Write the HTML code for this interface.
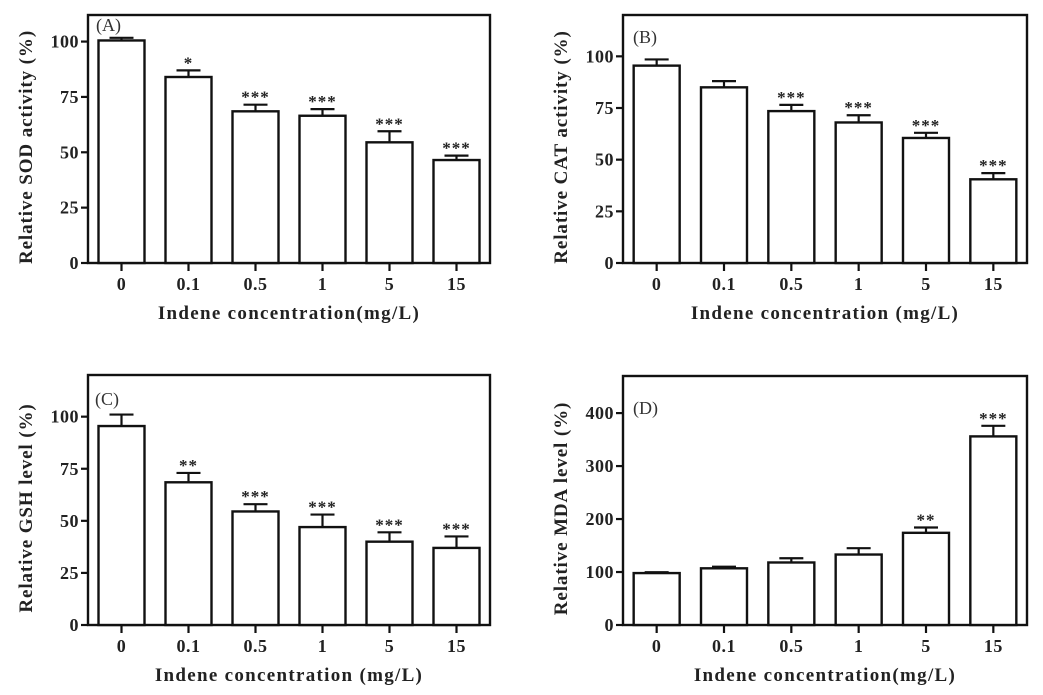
<!DOCTYPE html>
<html><head><meta charset="utf-8"><style>
body{margin:0;background:#fff}
svg{display:block;font-family:"Liberation Serif",serif}
</style></head><body>
<svg id="fig" width="1043" height="695" viewBox="0 0 1043 695" xmlns="http://www.w3.org/2000/svg"></svg>
<script>
const categories = ["0","0.1","0.5","1","5","15"];
const sodValues = [100.5,84,68.5,66.5,54.5,46.5];
const sodErrors = [1.2,3,3,3,5,2];
const sodStars = ["","*","***","***","***","***"];
const catValues = [95.5,85,73.5,68,60.5,40.5];
const catErrors = [3,3,3,3.5,2.5,3];
const catStars = ["","","***","***","***","***"];
const gshValues = [95.5,68.5,54.5,47,40,37];
const gshErrors = [5.5,4.5,3.5,6,4.5,5.5];
const gshStars = ["","**","***","***","***","***"];
const mdaValues = [98,107,118,133,174,356];
const mdaErrors = [1.5,3,8,12,10,20];
const mdaStars = ["","","","","**","***"];
const ticks100 = [0,25,50,75,100];
const ticks400 = [0,100,200,300,400];

const NS="http://www.w3.org/2000/svg";
const svg=document.getElementById('fig');
function mk(tag,attrs,parent){const e=document.createElementNS(NS,tag);for(const k in attrs)e.setAttribute(k,attrs[k]);(parent||svg).appendChild(e);return e;}

const panels=[
 {id:'a',L:88,T:15,R:490,B:263,max:112,vals:sodValues,errs:sodErrors,stars:sodStars,ticks:ticks100,ytitle:'Relative SOD activity (%)',xtitle:'Indene concentration(mg/L)',tag:'(A)',tx:96,ty:31},
 {id:'b',L:623,T:15,R:1027,B:263,max:120,vals:catValues,errs:catErrors,stars:catStars,ticks:ticks100,ytitle:'Relative CAT activity (%)',xtitle:'Indene concentration (mg/L)',tag:'(B)',tx:633,ty:43},
 {id:'c',L:88,T:375,R:490,B:625,max:120,vals:gshValues,errs:gshErrors,stars:gshStars,ticks:ticks100,ytitle:'Relative  GSH  level (%)',xtitle:'Indene concentration (mg/L)',tag:'(C)',tx:95,ty:405},
 {id:'d',L:623,T:376,R:1027,B:625,max:470,vals:mdaValues,errs:mdaErrors,stars:mdaStars,ticks:ticks400,ytitle:'Relative MDA level (%)',xtitle:'Indene concentration(mg/L)',tag:'(D)',tx:633,ty:414}
];

panels.forEach(p=>{
  const g=mk('g',{});
  
  
  const y=v=>p.B-(v/p.max)*(p.B-p.T);
  const step=(p.R-p.L)/6;
  const x=i=>p.L+step*(i+0.5);
  const frame=mk('rect',{x:p.L,y:p.T,width:p.R-p.L,height:p.B-p.T,fill:'none',stroke:'#111','stroke-width':2.4},g);
  
  
  p.ticks.forEach(t=>{
    mk('line',{x1:p.L-7,x2:p.L,y1:y(t),y2:y(t),stroke:'#111','stroke-width':2.2},g);
    const tl=mk('text',{x:p.L-9,y:y(t)+6,'text-anchor':'end','font-size':18,'font-weight':'bold','letter-spacing':0.5,fill:'#222'},g);
    tl.textContent=t;
    
    
  });
  const bw=46;
  p.vals.forEach((v,i)=>{
    const cx=x(i);
    mk('line',{x1:cx,x2:cx,y1:y(v),y2:y(v+p.errs[i]),stroke:'#111','stroke-width':2.2},g);
    const cap=mk('line',{x1:cx-12,x2:cx+12,y1:y(v+p.errs[i]),y2:y(v+p.errs[i]),stroke:'#111','stroke-width':2.2},g);
    
    
    const b=mk('rect',{x:cx-bw/2,y:y(v),width:bw,height:p.B-y(v),fill:'#fff',stroke:'#111','stroke-width':2.4},g);
    
    
    if(p.stars[i]){
      const s=mk('text',{x:cx,y:y(v+p.errs[i])-2,'text-anchor':'middle','font-size':17,'font-weight':'bold','letter-spacing':1,fill:'#222'},g);
      s.textContent=p.stars[i];
      
      
    }
    mk('line',{x1:cx,x2:cx,y1:p.B,y2:p.B+8,stroke:'#111','stroke-width':2.2},g);
    const xl=mk('text',{x:cx,y:p.B+27,'text-anchor':'middle','font-size':18,'font-weight':'bold','letter-spacing':0.5,fill:'#222'},g);
    xl.textContent=categories[i];
    
    
  });
  const xt=mk('text',{x:(p.L+p.R)/2,y:p.B+56,'text-anchor':'middle','font-size':19,'font-weight':'bold','letter-spacing':1.3,fill:'#222'},g);
  xt.textContent=p.xtitle;
  
  
  const cy=(p.T+p.B)/2+8;
  const yt=mk('text',{x:p.L-56,y:cy,transform:`rotate(-90 ${p.L-56} ${cy})`,'text-anchor':'middle','font-size':19,'font-weight':'bold','letter-spacing':0.9,fill:'#222'},g);
  yt.textContent=p.ytitle;
  
  
  const tg=mk('text',{x:p.tx,y:p.ty,'font-size':18,fill:'#333'},g);
  tg.textContent=p.tag;
  
  
});
</script>
</body></html>
